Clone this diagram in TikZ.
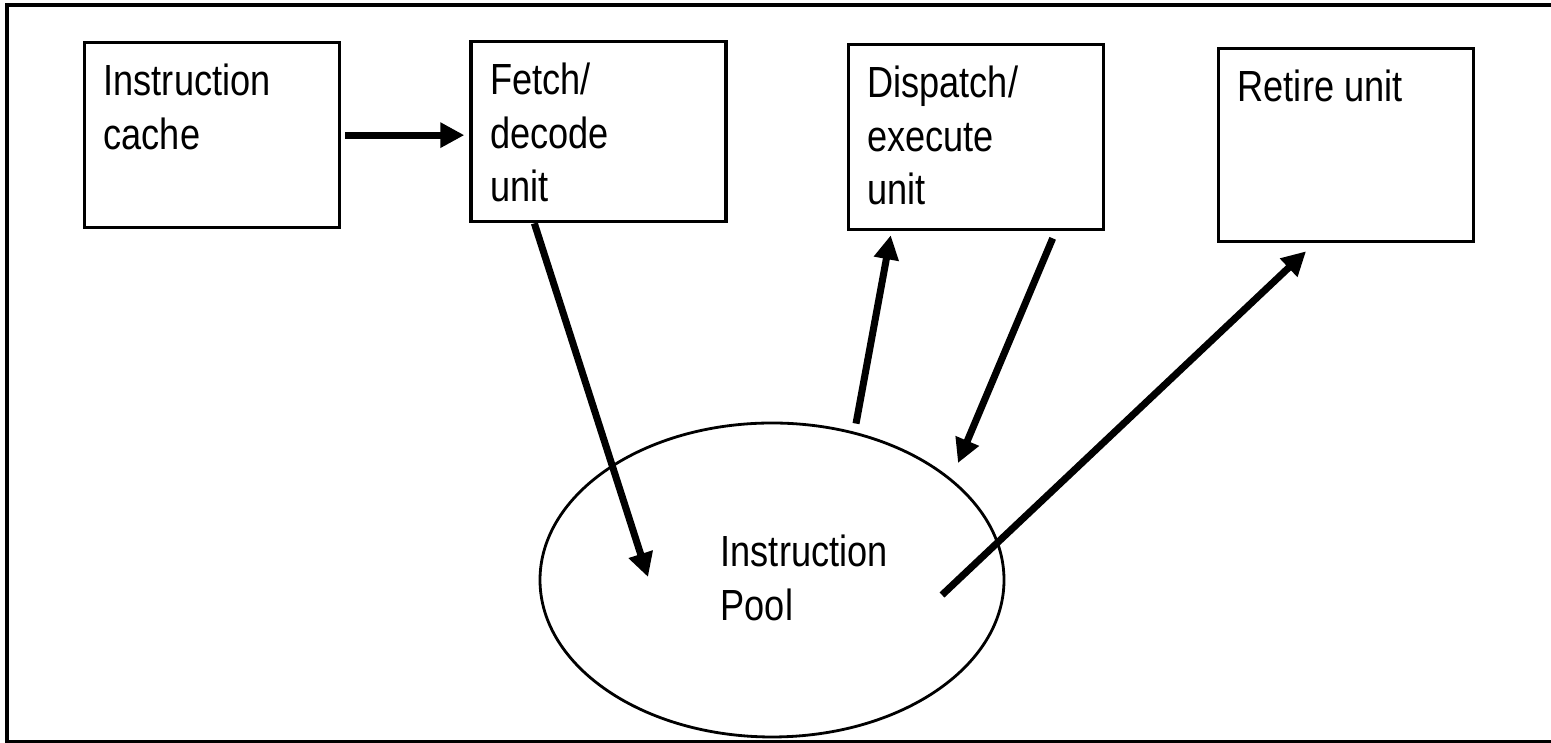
\documentclass[tikz,border=0pt]{standalone}
\usepackage{fontspec}
\setmainfont{Liberation Sans}[FakeStretch=0.83]
\usetikzlibrary{positioning,shapes.geometric,arrows.meta}

% text set at the top left corner of a unit box
\newcommand{\boxtext}[2][1.43cm]{\parbox[t][#1][t]{2.17cm}{\raggedright #2}}

\begin{document}
\begin{tikzpicture}[
    txt/.style={font=\fontsize{12.4}{15.3}\selectfont},
    unit/.style={draw, rectangle, line width=0.95pt, inner xsep=0.19cm,
                 inner ysep=0.21cm, txt},
    pool/.style={draw, ellipse, line width=0.8pt, minimum width=4.64cm,
                 minimum height=3.14cm},
    flow/.style={-{Triangle[length=0.24cm, width=0.24cm]}, line width=2pt}
]
\clip (0,0) rectangle (15.51,7.43);
\draw [line width=0.9pt] (0.07,0.015) rectangle (15.8,7.38);

% the four units along the top
\node (cache) [unit, anchor=north west] at (0.83,7.02) {\boxtext{Instruction\\cache}};
\node (fetch) [unit, right=1.28cm of cache.north east, anchor=north west, yshift=0.01cm]
      {\boxtext[1.38cm]{Fetch/\\decode\\unit}};
\node (dispatch) [unit, right=1.19cm of fetch.north east, anchor=north west, yshift=-0.03cm]
      {\boxtext{Dispatch/\\execute\\unit}};
\node (retire) [unit, right=1.12cm of dispatch.north east, anchor=north west, yshift=-0.04cm]
      {\boxtext[1.51cm]{Retire unit}};

% the pool below them
\node (pool) [pool] at (7.72,1.63) {};
\node (pooltext) [txt, align=left, inner sep=0pt, anchor=north west]
      at ([shift={(-0.52,0.46)}]pool.center) {Instruction\\Pool};

\draw [flow, shorten <=0.04cm, shorten >=0.05cm] (cache.east) -- (cache.east -| fetch.west);
\draw [flow] ([xshift=0.65cm]fetch.south west) -- ([shift={(-1.24,0.03)}]pool.center);
\draw [flow] ([shift={(0.84,-0.02)}]pool.north) -- ([shift={(0.44,-0.04)}]dispatch.south west);
\draw [flow] ([shift={(2.06,-0.07)}]dispatch.south west) -- ([shift={(1.86,1.17)}]pool.center);
\draw [flow] ([shift={(1.70,-0.15)}]pool.center) -- ([shift={(0.89,-0.08)}]retire.south west);
\end{tikzpicture}
\end{document}
